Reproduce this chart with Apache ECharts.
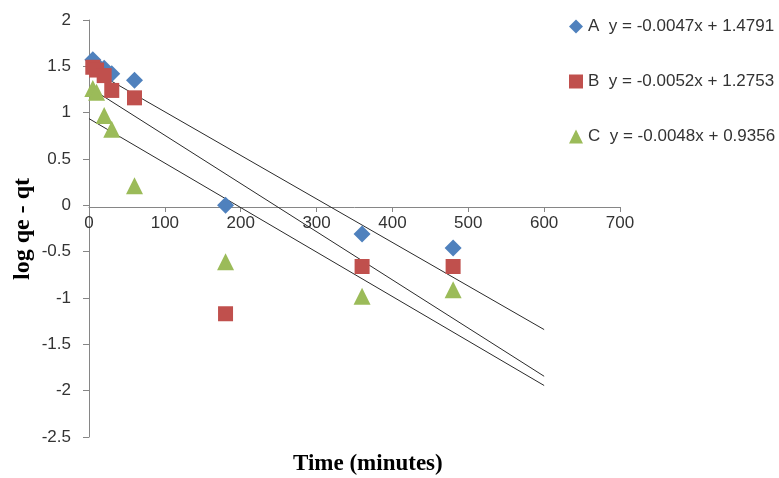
<!DOCTYPE html>
<html>
<head>
<meta charset="utf-8">
<script src="https://cdn.jsdelivr.net/npm/echarts@6/dist/echarts.min.js"></script>
<style>
  html, body { margin: 0; padding: 0; background: #fff; }
  #main { width: 779px; height: 478px; }
</style>
</head>
<body>
<div id="main"></div>
<script>
// 时间点 (minutes)
var times = [5, 10, 20, 30, 60, 180, 360, 480];
// log(qe - qt) 各组数据
var seriesA = [1.57, 1.52, 1.48, 1.42, 1.35, 0.0, -0.31, -0.46];
var seriesB = [1.49, 1.46, 1.40, 1.24, 1.16, -1.17, -0.66, -0.66];
var seriesC = [1.26, 1.22, 0.97, 0.82, 0.21, -0.61, -0.98, -0.91];
// 趋势线方程 y = k x + b
var names = ['A', 'B', 'C'];
var slopes = [-0.0047, -0.0052, -0.0048];
var intercepts = [1.4791, 1.2753, 0.9356];
var eqText = ['y = -0.0047x + 1.4791', 'y = -0.0052x + 1.2753', 'y = -0.0048x + 0.9356'];
var trendRange = [0, 600];
var colors = ['#4F81BD', '#C0504D', '#9BBB59'];
var symbols = ['diamond', 'rect', 'triangle'];

function pairs(ys) {
    return times.map(function (t, i) { return [t, ys[i]]; });
}

var myChart = echarts.init(document.getElementById('main'));

var allData = [seriesA, seriesB, seriesC];
var series = [];
// 趋势线
names.forEach(function (n, i) {
    series.push({
        name: n + ' trend',
        type: 'line',
        showSymbol: false,
        silent: true,
        lineStyle: { color: '#2a2a2a', width: 1 },
        data: trendRange.map(function (x) { return [x, slopes[i] * x + intercepts[i]]; }),
        z: 1
    });
});
// 散点
names.forEach(function (n, i) {
    series.push({
        name: n,
        type: 'scatter',
        symbol: symbols[i],
        symbolSize: symbols[i] === 'rect' ? 15 : 17,
        itemStyle: { color: colors[i], opacity: 1 },
        data: pairs(allData[i]),
        z: 3
    });
});

var option = {
    animation: false,
    color: colors,
    grid: { left: 89, right: 159, top: 20, bottom: 41 },
    legend: {
        data: [
            { name: 'A', icon: 'diamond' },
            { name: 'B', icon: 'rect' },
            { name: 'C', icon: 'triangle' }
        ],
        orient: 'vertical',
        left: 564,
        top: 13,
        itemGap: 38,
        itemWidth: 14,
        itemHeight: 14,
        formatter: function (name) {
            return name + '  ' + eqText[names.indexOf(name)];
        },
        textStyle: { fontFamily: 'Liberation Sans', fontSize: 17, color: '#333' }
    },
    xAxis: {
        type: 'value',
        min: 0,
        max: 700,
        interval: 100,
        offset: -230, // 轴线放在 y=0 处
        axisLine: { onZero: false, lineStyle: { color: '#868686' } },
        axisTick: { show: true, length: 5, lineStyle: { color: '#868686' } },
        axisLabel: { fontFamily: 'Liberation Sans', fontSize: 17, color: '#333', margin: 8 },
        splitLine: { show: false }
    },
    yAxis: {
        type: 'value',
        min: -2.5,
        max: 2,
        interval: 0.5,
        axisLine: { show: true, lineStyle: { color: '#868686' } },
        axisTick: { show: true, length: 6, lineStyle: { color: '#868686' } },
        axisLabel: { fontFamily: 'Liberation Sans', fontSize: 17, color: '#333', margin: 18 },
        splitLine: { show: false }
    },
    graphic: [
        {
            type: 'text',
            left: 11,
            top: 178,
            rotation: Math.PI / 2,
            style: {
                text: 'log qe - qt',
                font: 'bold 24px "Liberation Serif"',
                fill: '#000'
            }
        },
        {
            type: 'text',
            left: 293,
            top: 453,
            style: {
                text: 'Time (minutes)',
                font: 'bold 23px "Liberation Serif"',
                fill: '#000'
            }
        }
    ],
    series: series
};

myChart.setOption(option);
</script>
</body>
</html>
